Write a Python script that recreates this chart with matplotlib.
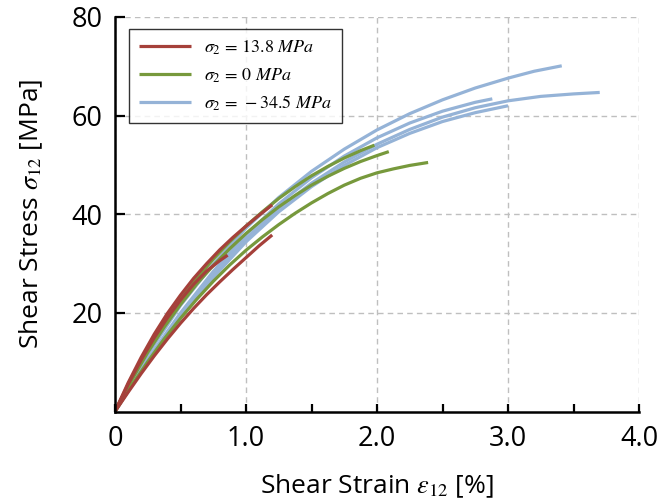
import numpy as np
import matplotlib
matplotlib.use('Agg')
import matplotlib.pyplot as plt
from matplotlib.ticker import MultipleLocator, FixedLocator

plt.rcParams['font.family'] = ['Open Sans', 'DejaVu Sans']
plt.rcParams['mathtext.fontset'] = 'stix'

# sigma_2 = 13.8 MPa (red)
r1_x = [0, 0.1, 0.2, 0.3, 0.4, 0.5, 0.6, 0.7, 0.8, 0.9, 1.0, 1.1, 1.2]
r1_y = [0, 5.8, 11.0, 15.7, 19.9, 23.6, 27.0, 30.0, 32.8, 35.3, 37.6, 39.8, 41.9]
r2_x = [0, 0.1, 0.2, 0.3, 0.4, 0.5, 0.6, 0.7, 0.8, 0.9, 1.0, 1.1, 1.2]
r2_y = [0, 3.9, 7.7, 11.3, 14.7, 17.9, 20.9, 23.7, 26.3, 28.8, 31.2, 33.6, 35.8]
r3_x = [0, 0.1, 0.2, 0.3, 0.4, 0.5, 0.6, 0.7, 0.8, 0.86]
r3_y = [0, 5.5, 10.5, 15.0, 19.0, 22.6, 25.8, 28.5, 30.6, 31.7]

# sigma_2 = 0 MPa (green)
g1_x = [0, 0.125, 0.25, 0.375, 0.5, 0.625, 0.75, 0.875, 1.0, 1.125, 1.25,
        1.375, 1.5, 1.625, 1.75, 1.875, 1.98]
g1_y = [0, 6.6, 12.6, 17.9, 22.7, 27.0, 30.9, 34.4, 37.6, 40.5, 43.2,
        45.6, 47.8, 49.7, 51.4, 52.9, 54.0]
g2_x = [0, 0.125, 0.25, 0.375, 0.5, 0.625, 0.75, 0.875, 1.0, 1.125, 1.25,
        1.375, 1.5, 1.625, 1.75, 1.875, 2.0, 2.09]
g2_y = [0, 6.3, 12.0, 17.1, 21.7, 25.9, 29.6, 33.0, 36.1, 38.9, 41.5,
        43.8, 45.9, 47.7, 49.3, 50.7, 51.9, 52.7]
g3_x = [0, 0.125, 0.25, 0.375, 0.5, 0.625, 0.75, 0.875, 1.0, 1.125, 1.25,
        1.375, 1.5, 1.625, 1.75, 1.875, 2.0, 2.125, 2.25, 2.39]
g3_y = [0, 5.2, 10.1, 14.7, 18.9, 22.8, 26.4, 29.7, 32.7, 35.4, 37.9,
        40.2, 42.3, 44.2, 45.9, 47.3, 48.4, 49.2, 49.9, 50.5]

# sigma_2 = -34.5 MPa (blue)
b1_x = [0, 0.125, 0.25, 0.5, 0.75, 1.0, 1.25, 1.5, 1.75, 2.0, 2.25, 2.5,
        2.75, 3.0, 3.2, 3.41]
b1_y = [0, 6.0, 11.6, 21.5, 29.9, 37.2, 43.4, 48.7, 53.2, 57.1, 60.4, 63.2,
        65.6, 67.6, 69.0, 70.1]
b2_x = [0, 0.125, 0.25, 0.5, 0.75, 1.0, 1.25, 1.5, 1.75, 2.0, 2.25, 2.5,
        2.75, 3.0, 3.25, 3.5, 3.7]
b2_y = [0, 5.3, 10.2, 19.3, 27.6, 35.0, 41.2, 46.3, 50.6, 54.2, 57.2, 59.7,
        61.6, 63.0, 63.9, 64.4, 64.7]
b3_x = [0, 0.125, 0.25, 0.5, 0.75, 1.0, 1.25, 1.5, 1.75, 2.0, 2.25, 2.5,
        2.75, 2.88]
b3_y = [0, 5.5, 10.6, 20.0, 28.4, 35.8, 42.1, 47.4, 51.8, 55.5, 58.5, 60.9,
        62.7, 63.4]
b4_x = [0, 0.125, 0.25, 0.5, 0.75, 1.0, 1.25, 1.5, 1.75, 2.0, 2.25, 2.5,
        2.75, 3.0]
b4_y = [0, 5.2, 10.0, 19.0, 27.2, 34.4, 40.5, 45.6, 49.9, 53.5, 56.4, 58.8,
        60.6, 62.0]

red = '#A5403A'
green = '#77993C'
blue = '#95B3D7'
lw = 2.3

fig = plt.figure(figsize=(6.59, 5.01), dpi=100)
ax = fig.add_axes([0.1745, 0.1786, 0.7952, 0.7875])

for x, y in [(b1_x, b1_y), (b2_x, b2_y), (b3_x, b3_y), (b4_x, b4_y)]:
    hb, = ax.plot(x, y, color=blue, lw=lw, solid_capstyle='butt')
for x, y in [(g1_x, g1_y), (g2_x, g2_y), (g3_x, g3_y)]:
    hg, = ax.plot(x, y, color=green, lw=lw, solid_capstyle='butt')
for x, y in [(r1_x, r1_y), (r2_x, r2_y), (r3_x, r3_y)]:
    hr, = ax.plot(x, y, color=red, lw=lw, solid_capstyle='butt')

ax.set_xlim(0, 4)
ax.set_ylim(0, 80)
ax.xaxis.set_major_locator(FixedLocator([0, 1, 2, 3, 4]))
ax.set_xticklabels(['0', '1.0', '2.0', '3.0', '4.0'])
ax.xaxis.set_minor_locator(MultipleLocator(0.5))
ax.yaxis.set_major_locator(FixedLocator([20, 40, 60, 80]))

ax.tick_params(axis='both', which='both', direction='in', width=1.6,
               labelsize=19.5, colors='black')
ax.tick_params(axis='x', which='both', length=6, pad=10)
ax.tick_params(axis='y', which='major', length=7, pad=9)

for s in ['top', 'right']:
    ax.spines[s].set_visible(False)
for s in ['left', 'bottom']:
    ax.spines[s].set_linewidth(1.8)

ax.grid(True, which='major', color='#BFBFBF', linestyle=(0, (4, 3)), lw=1.0)
ax.set_axisbelow(True)

ax.set_xlabel(r'Shear Strain $\varepsilon_{12}$ [%]', fontsize=19, labelpad=14)
ax.set_ylabel(r'Shear Stress $\sigma_{12}$ [MPa]', fontsize=19, labelpad=19)

leg = ax.legend([hr, hg, hb],
                [r'$\sigma_2\,=\,13.8\ MPa$', r'$\sigma_2\,=\,0\ MPa$',
                 r'$\sigma_2\,=\,-34.5\ MPa$'],
                loc='upper left', bbox_to_anchor=(0.027, 0.97), borderaxespad=0,
                fancybox=False, frameon=True, edgecolor='black', fontsize=13,
                handlelength=2.9, handletextpad=0.7, labelspacing=0.5,
                borderpad=0.55)
leg.get_frame().set_linewidth(1.0)

plt.savefig('out.png', dpi=100)
